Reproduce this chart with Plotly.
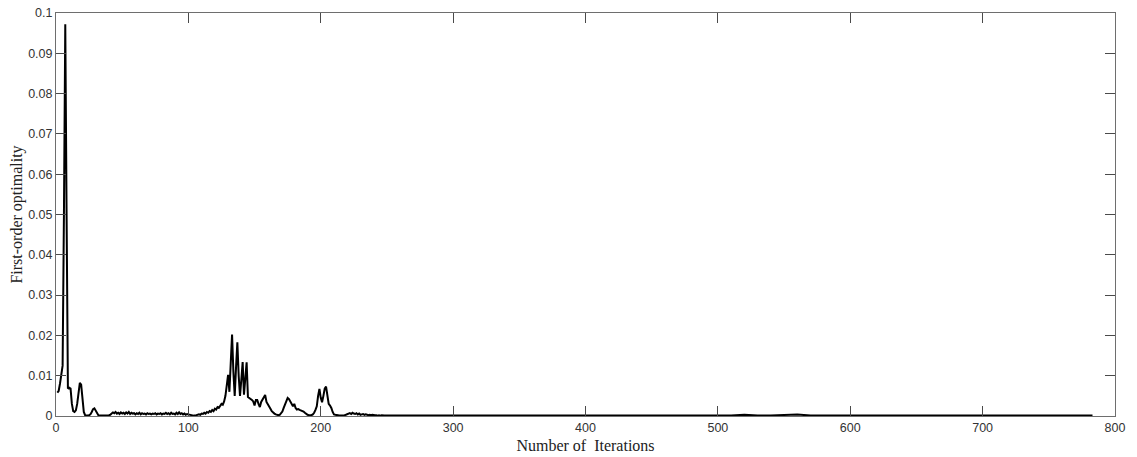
import plotly.graph_objects as go

# Iterations 1..250 (dense part)
head_iters = list(range(1, 251))
head_values = [
    0.0058, 0.0062, 0.0080, 0.0110, 0.0125, 0.0500, 0.0972, 0.0500, 0.0068, 0.0070,
    0.0068, 0.0030, 0.0012, 0.0010, 0.0014, 0.0030, 0.0062, 0.0082, 0.0078, 0.0035,
    0.0010, 0.0002, 0.0001, 0.0001, 0.0002, 0.0004, 0.0010, 0.0017, 0.0019, 0.0014,
    0.0007, 0.0002, 0.0001, 0.0001, 0.0001, 0.0001, 0.0001, 0.0001, 0.0002, 0.0002,
    0.0003, 0.0006, 0.0009, 0.0007, 0.0010, 0.0006, 0.0008, 0.0005, 0.0009, 0.0006,
    0.0008, 0.0005, 0.0009, 0.0006, 0.0010, 0.0005, 0.0008, 0.0006, 0.0007, 0.0004,
    0.0007, 0.0005, 0.0008, 0.0004, 0.0007, 0.0005, 0.0006, 0.0004, 0.0007, 0.0005,
    0.0006, 0.0004, 0.0006, 0.0005, 0.0007, 0.0004, 0.0006, 0.0005, 0.0007, 0.0004,
    0.0006, 0.0005, 0.0008, 0.0005, 0.0007, 0.0004, 0.0008, 0.0005, 0.0006, 0.0004,
    0.0008, 0.0005, 0.0009, 0.0005, 0.0007, 0.0004, 0.0006, 0.0003, 0.0005, 0.0004,
    0.0003, 0.0002, 0.0001, 0.0001, 0.0001, 0.0002, 0.0003, 0.0004, 0.0003, 0.0006,
    0.0005, 0.0008, 0.0006, 0.0010, 0.0008, 0.0012, 0.0010, 0.0015, 0.0012, 0.0018,
    0.0016, 0.0022, 0.0020, 0.0026, 0.0030, 0.0028, 0.0036, 0.0050, 0.0080, 0.0102,
    0.0060, 0.0120, 0.0202, 0.0110, 0.0050, 0.0120, 0.0183, 0.0100, 0.0050, 0.0090,
    0.0134, 0.0053, 0.0100, 0.0133, 0.0047, 0.0045, 0.0042, 0.0040, 0.0036, 0.0026,
    0.0040, 0.0040, 0.0030, 0.0022, 0.0035, 0.0042, 0.0045, 0.0052, 0.0035, 0.0028,
    0.0025, 0.0018, 0.0012, 0.0008, 0.0006, 0.0004, 0.0003, 0.0002, 0.0003, 0.0006,
    0.0011, 0.0020, 0.0030, 0.0040, 0.0045, 0.0042, 0.0035, 0.0027, 0.0024, 0.0030,
    0.0020, 0.0016, 0.0017, 0.0015, 0.0014, 0.0012, 0.0011, 0.0008, 0.0005, 0.0003,
    0.0002, 0.0002, 0.0002, 0.0004, 0.0008, 0.0015, 0.0024, 0.0050, 0.0067, 0.0045,
    0.0034, 0.0050, 0.0068, 0.0073, 0.0050, 0.0030, 0.0026, 0.0020, 0.0010, 0.0004,
    0.0003, 0.0002, 0.0001, 0.0001, 0.0001, 0.0001, 0.0002, 0.0002, 0.0003, 0.0004,
    0.0005, 0.0007, 0.0005, 0.0008, 0.0006, 0.0005, 0.0007, 0.0004, 0.0006, 0.0003,
    0.0004, 0.0005, 0.0003, 0.0004, 0.0003, 0.0002, 0.0003, 0.0002, 0.0003, 0.0002,
    0.0002, 0.0002, 0.0001, 0.0002, 0.0001, 0.0002, 0.0001, 0.0001, 0.0001, 0.0001,
]

# Sparse tail, iterations 260..783
tail_iters = list(range(260, 790, 10)) + [783]
tail_values = [
    0.0002, 0.0001, 0.0001, 0.0001, 0.0002, 0.0001, 0.0001, 0.0001, 0.0001, 0.0001,
    0.0001, 0.0001, 0.0002, 0.0001, 0.0002, 0.0002, 0.0001, 0.0001, 0.0001, 0.0001,
    0.0001, 0.0001, 0.0001, 0.0001, 0.0001, 0.0001, 0.0003, 0.0001, 0.0001, 0.0002,
    0.0004, 0.0001, 0.0001, 0.0001, 0.0002, 0.0001, 0.0001, 0.0001, 0.0001, 0.0001,
    0.0001, 0.0001, 0.0001, 0.0001, 0.0001, 0.0001, 0.0001, 0.0001, 0.0001, 0.0001,
    0.0001, 0.0001, 0.0001,
    0.0001,
]

x_title = "Number of  Iterations"
y_title = "First-order optimality"

iters = head_iters + tail_iters
values = head_values + tail_values

fig = go.Figure(go.Scatter(x=iters, y=values, mode="lines",
                           line=dict(color="black", width=2), showlegend=False))

axis_common = dict(
    showgrid=False, zeroline=False, showline=True, linecolor="#6e6e6e", linewidth=1,
    mirror="ticks", ticks="inside", ticklen=10, tickcolor="#4a4a4a", tickwidth=1,
    automargin=False,
    tickfont=dict(family="Liberation Sans, Arial, sans-serif", size=12.5, color="#333333"),
)

fig.update_layout(
    width=1137, height=457,
    margin=dict(l=56, r=22, t=13, b=41),
    paper_bgcolor="white", plot_bgcolor="white",
    xaxis=dict(range=[0, 800], dtick=100, tick0=0,
               title=dict(text=x_title, standoff=5,
                          font=dict(family="Liberation Serif, Times New Roman, serif", size=16, color="#222222")),
               **axis_common),
    yaxis=dict(range=[0, 0.1], dtick=0.01, tick0=0,
               title=dict(text=y_title, standoff=1,
                          font=dict(family="Liberation Serif, Times New Roman, serif", size=16, color="#222222")),
               **axis_common),
)

fig.write_html("out.html", config={"displayModeBar": False},
               post_script="document.body.style.margin='0';document.body.style.overflow='hidden';")
